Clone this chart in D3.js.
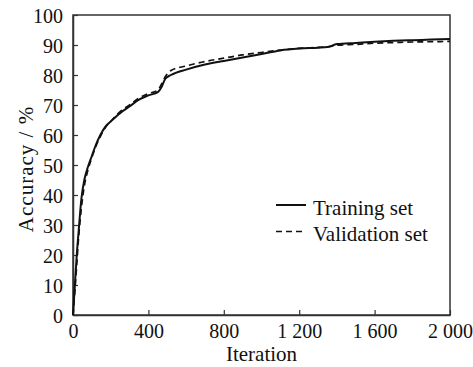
<!DOCTYPE html>
<html><head><meta charset="utf-8">
<script src="https://cdn.jsdelivr.net/npm/d3@7"></script>
<style>body{margin:0;background:#fff}svg{display:block}text{font-family:"Liberation Serif","Times New Roman",serif;fill:#111}</style>
</head><body>
<svg id="c" width="473" height="367"></svg>
<script>
const iterations = [0,10,20,30,45,60,80,100,120,145,175,200,250,300,350,400,450,470,490,520,600,700,800,900,1000,1100,1200,1300,1350,1400,1500,1600,1700,1800,1900,2000];
const training   = [0,10,20,28,39,45,49.5,53,56.5,60,63,64.5,67.3,69.5,71.8,73.2,74.3,76,78.8,80,81.8,83.5,84.7,85.8,87,88.2,88.8,89.1,89.3,90.3,90.7,91.1,91.4,91.6,91.8,92];
const validation = [0,8,17,26,36,43,48.5,52.5,56,59.5,62.8,64.5,67.8,70,72.3,73.8,75,77,79.5,81.5,83,84.5,85.6,86.7,87.5,88.3,88.9,89.2,89.4,89.9,90.2,90.6,90.8,91,91.1,91.2];
const xTicks = [0,400,800,1200,1600,2000];
const yTicks = [0,10,20,30,40,50,60,70,80,90,100];
const seriesNames = ["Training set","Validation set"];

const svg = d3.select("#c");
const m = {l:73, r:450, t:15, b:315};
const x = d3.scaleLinear().domain([0,2000]).range([m.l,m.r]);
const y = d3.scaleLinear().domain([0,100]).range([m.b,m.t]);
const axisColor = "#333";
const FS = 20;

const fmt = d => d >= 1000 ? Math.floor(d/1000) + " " + String(d%1000).padStart(3,"0") : String(d);

// frame
svg.append("rect").attr("x",m.l).attr("y",m.t).attr("width",m.r-m.l).attr("height",m.b-m.t)
  .attr("fill","none").attr("stroke",axisColor).attr("stroke-width",1.5);

const gx = svg.append("g").attr("transform",`translate(0,${m.b})`)
  .call(d3.axisBottom(x).tickValues(xTicks).tickFormat(fmt).tickSizeInner(-5).tickSizeOuter(0).tickPadding(9));
const gy = svg.append("g").attr("transform",`translate(${m.l},0)`)
  .call(d3.axisLeft(y).tickValues(yTicks).tickSizeInner(-5).tickSizeOuter(0).tickPadding(10));
[gx,gy].forEach(g=>{
  g.select(".domain").attr("stroke",axisColor).attr("stroke-width",1.5);
  g.selectAll(".tick line").attr("stroke",axisColor).attr("stroke-width",1.2);
  g.selectAll(".tick text").attr("font-size",FS).attr("fill","#111").style("font-family","Liberation Serif");
});
gx.selectAll(".tick text").attr("dy","0.71em");
gy.selectAll(".tick text").attr("dy","0.36em");

svg.append("text").attr("x",(m.l+m.r)/2).attr("y",361).attr("text-anchor","middle").attr("font-size",21).text("Iteration");
svg.append("text").attr("transform",`translate(33,${(m.t+m.b)/2+4}) rotate(-90)`).attr("text-anchor","middle")
  .attr("font-size",21).attr("letter-spacing",1).text("Accuracy / %");

const line = d3.line().x((d,i)=>x(iterations[i])).y(d=>y(d)).curve(d3.curveMonotoneX);
svg.append("path").datum(validation).attr("d",line).attr("fill","none").attr("stroke","#111").attr("stroke-width",1.7).attr("stroke-dasharray","6,4");
svg.append("path").datum(training).attr("d",line).attr("fill","none").attr("stroke","#111").attr("stroke-width",2);

// legend
const lg = svg.append("g");
[0,1].forEach(i=>{
  const yy = 205 + i*26.5;
  lg.append("line").attr("x1",276).attr("x2",306).attr("y1",yy).attr("y2",yy)
    .attr("stroke","#111").attr("stroke-width",i?1.5:2).attr("stroke-dasharray",i?"6,4":null);
  lg.append("text").attr("x",313).attr("y",yy+9.5).attr("font-size",21).text(seriesNames[i]);
});
</script>
</body></html>
